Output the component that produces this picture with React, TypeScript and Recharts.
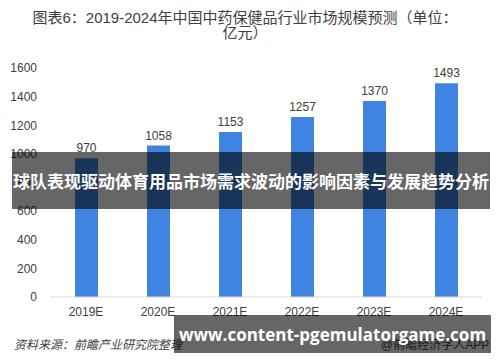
import { Bar, BarChart, LabelList, XAxis, YAxis } from 'recharts'

const years = ['2019E', '2020E', '2021E', '2022E', '2023E', '2024E']
const marketSize = [970, 1058, 1153, 1257, 1370, 1493]
const yTicks = [0, 200, 400, 600, 800, 1000, 1200, 1400, 1600]

const data = years.map((year, i) => ({ year, value: marketSize[i] }))

const cjk = '"Liberation Sans", "Noto Sans CJK SC", sans-serif'

export default function App() {
  return (
    <div style={{ position: 'relative', width: 500, height: 362, background: '#fff', fontFamily: cjk, overflow: 'hidden' }}>
      <style>{'body{margin:0}'}</style>
      <div style={{ position: 'absolute', top: 10, left: 0, width: 490, textAlign: 'center', fontSize: 15, lineHeight: '15px', color: '#404040' }}>
        图表6：2019-2024年中国中药保健品行业市场规模预测（单位：
        <br />
        亿元）
      </div>

      <BarChart
        width={500}
        height={362}
        data={data}
        margin={{ top: 68, right: 18, bottom: 45, left: 0 }}
        barCategoryGap={0}
      >
        <XAxis
          dataKey="year"
          height={20}
          tickLine={false}
          axisLine={{ stroke: '#d9d9d9' }}
          tick={{ fontSize: 12, fill: '#404040', fontFamily: cjk }}
          tickMargin={4}
        />
        <YAxis
          width={50}
          domain={[0, 1600]}
          ticks={yTicks}
          interval={0}
          tickLine={false}
          axisLine={false}
          tick={{ fontSize: 12, fill: '#404040', fontFamily: cjk }}
          tickMargin={7}
        />
        <Bar dataKey="value" fill="#3f84e0" barSize={23} isAnimationActive={false}>
          <LabelList dataKey="value" position="top" offset={6} fill="#404040" fontSize={12} fontFamily={cjk} />
        </Bar>
      </BarChart>

      <div style={{ position: 'absolute', left: 14, top: 335, fontSize: 12, fontStyle: 'italic', color: '#404040' }}>
        资料来源：前瞻产业研究院整理
      </div>
      <div style={{ position: 'absolute', left: 381, top: 335, fontSize: 12, color: '#404040' }}>
        @前瞻经济学人APP
      </div>

      <div
        style={{
          position: 'absolute', left: 12, top: 152, width: 478, height: 57,
          background: 'rgba(0,0,0,0.6)', color: '#fff', fontWeight: 'bold', fontSize: 17,
          fontFamily: '"Noto Sans CJK SC", sans-serif',
          display: 'flex', alignItems: 'center', justifyContent: 'center', whiteSpace: 'nowrap',
        }}
      >
        球队表现驱动体育用品市场需求波动的影响因素与发展趋势分析
      </div>
      <div
        style={{
          position: 'absolute', left: 174, top: 315, width: 317, height: 38,
          background: 'rgba(0,0,0,0.6)', color: '#fff', fontWeight: 'bold', fontSize: 17,
          fontFamily: '"Open Sans", "Noto Sans", sans-serif',
          display: 'flex', alignItems: 'center', justifyContent: 'center', whiteSpace: 'nowrap',
        }}
      >
        www.content-pgemulatorgame.com
      </div>
    </div>
  )
}
